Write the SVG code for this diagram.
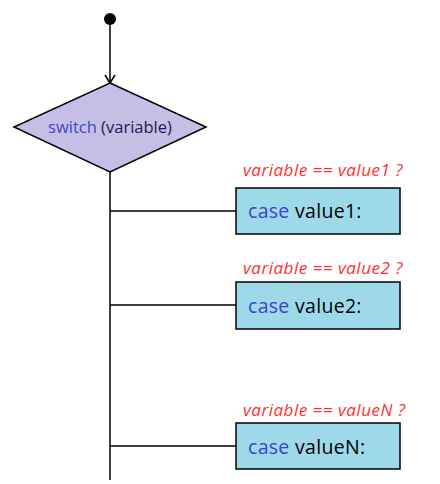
<svg xmlns="http://www.w3.org/2000/svg" width="440" height="484" viewBox="0 0 440 484">
<style>
.ln{stroke:#000;stroke-width:1.5;fill:none}
.box{fill:#9ed9ea;stroke:#000;stroke-width:1.5}
.cond{font-family:"Open Sans",sans-serif;font-style:italic;font-size:17px;letter-spacing:0.5px;fill:#ff3030}
.case{font-family:"Open Sans",sans-serif;font-size:19.5px;letter-spacing:0.3px;fill:#000}
.kw{fill:#4040cc}
</style>
<rect width="440" height="484" fill="#fff"/>
<g id="connectors">
<line class="ln" x1="110" y1="19" x2="110" y2="83"/>
<polyline class="ln" points="105,75 110,83 115,75"/>
<line class="ln" x1="110" y1="172" x2="110" y2="480"/>
<line class="ln" x1="110" y1="211" x2="237" y2="211"/>
<line class="ln" x1="110" y1="305" x2="237" y2="305"/>
<line class="ln" x1="110" y1="446" x2="237" y2="446"/>
</g>
<g id="start"><circle cx="110" cy="19" r="6" fill="#000"/></g>
<g id="switch">
<polygon points="110,83 206,127 110,172 14,127" fill="#c5bfe6" stroke="#000" stroke-width="1.5"/>
<text x="110" y="133" text-anchor="middle" font-family="Open Sans,sans-serif" font-size="16.5" fill="#1a1a5a"><tspan fill="#4444cc">switch</tspan> (variable)</text>
</g>
<g id="case1">
<text class="cond" x="243" y="176">variable == value1 ?</text>
<rect class="box" x="236" y="188" width="164" height="46"/>
<text class="case" x="248" y="218"><tspan class="kw">case</tspan> value1:</text>
</g>
<g id="case2">
<text class="cond" x="243" y="274">variable == value2 ?</text>
<rect class="box" x="236" y="282" width="164" height="47"/>
<text class="case" x="248" y="313"><tspan class="kw">case</tspan> value2:</text>
</g>
<g id="caseN">
<text class="cond" x="243" y="416">variable == valueN ?</text>
<rect class="box" x="236" y="423" width="164" height="46"/>
<text class="case" x="248" y="454"><tspan class="kw">case</tspan> valueN:</text>
</g>
</svg>
